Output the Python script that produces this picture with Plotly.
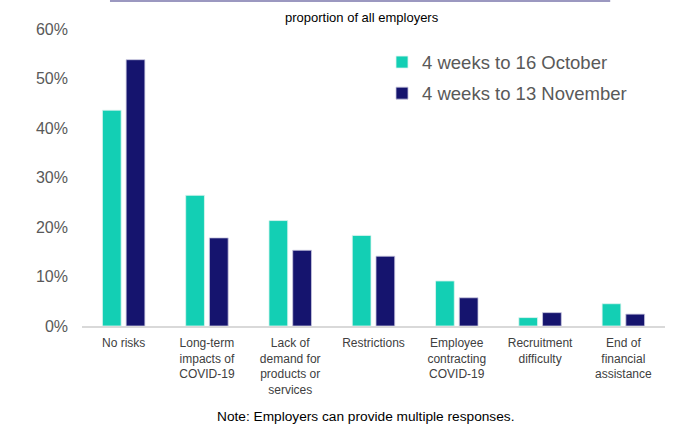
import plotly.graph_objects as go

categories = ["No risks", "Long-term<br>impacts of<br>COVID-19", "Lack of<br>demand for<br>products or<br>services",
              "Restrictions", "Employee<br>contracting<br>COVID-19", "Recruitment<br>difficulty",
              "End of<br>financial<br>assistance"]
oct_vals = [43.6, 26.4, 21.3, 18.3, 9.1, 1.7, 4.5]
nov_vals = [53.8, 17.8, 15.3, 14.1, 5.7, 2.7, 2.4]
series_names = ["4 weeks to 16 October", "4 weeks to 13 November"]
tick_vals = [0, 10, 20, 30, 40, 50, 60]
tick_text = ["0%", "10%", "20%", "30%", "40%", "50%", "60%"]

fig = go.Figure()
fig.add_trace(go.Bar(x=categories, y=oct_vals, name=series_names[0], legendgroup="a",
                     marker=dict(color="#13CFB4", line=dict(color="#dff5f0", width=0.8))))
fig.add_trace(go.Bar(x=categories, y=nov_vals, name=series_names[1], legendgroup="b",
                     marker=dict(color="#15146E", line=dict(color="#c9c8e0", width=0.8))))

fig.update_layout(
    width=680, height=428,
    margin=dict(l=82, r=15, t=29, b=102),
    paper_bgcolor="white", plot_bgcolor="white",
    barmode="group", bargap=0.43, bargroupgap=0.21,
    font=dict(family="Liberation Sans, Arial, sans-serif", color="#595959"),
    showlegend=True,
    legend=dict(x=0.5146, y=0.951, xanchor="left", yanchor="top",
                font=dict(size=18.5, color="#595959"), tracegroupgap=4,
                itemwidth=30, bgcolor="rgba(0,0,0,0)"),
    xaxis=dict(showline=True, linecolor="#d9d9d9", linewidth=1.5, ticks="",
               tickfont=dict(size=12, color="#404040"), showgrid=False,
               ticklabelstandoff=5),
    yaxis=dict(range=[0, 60], tickvals=tick_vals, ticktext=tick_text, showgrid=False,
               zeroline=False, showline=False, tickfont=dict(size=16, color="#595959"),
               ticklabelstandoff=13),
    annotations=[
        dict(text="proportion of all employers", xref="paper", yref="paper", x=0.48, y=1.040,
             showarrow=False, font=dict(size=13, color="black"), xanchor="center", yanchor="middle"),
        dict(text="Note: Employers can provide multiple responses.", xref="paper", yref="paper",
             x=0.487, y=-0.306, showarrow=False, font=dict(size=13.7, color="black"),
             xanchor="center", yanchor="middle"),
    ],
    shapes=[
        dict(type="line", xref="paper", yref="paper", x0=0.048, x1=0.906, y0=1.094, y1=1.094,
             line=dict(color="#9b98c0", width=2)),
    ],
)

fig.write_html("out.html", config={"displayModeBar": False},
               post_script="document.body.style.margin='0px';")
